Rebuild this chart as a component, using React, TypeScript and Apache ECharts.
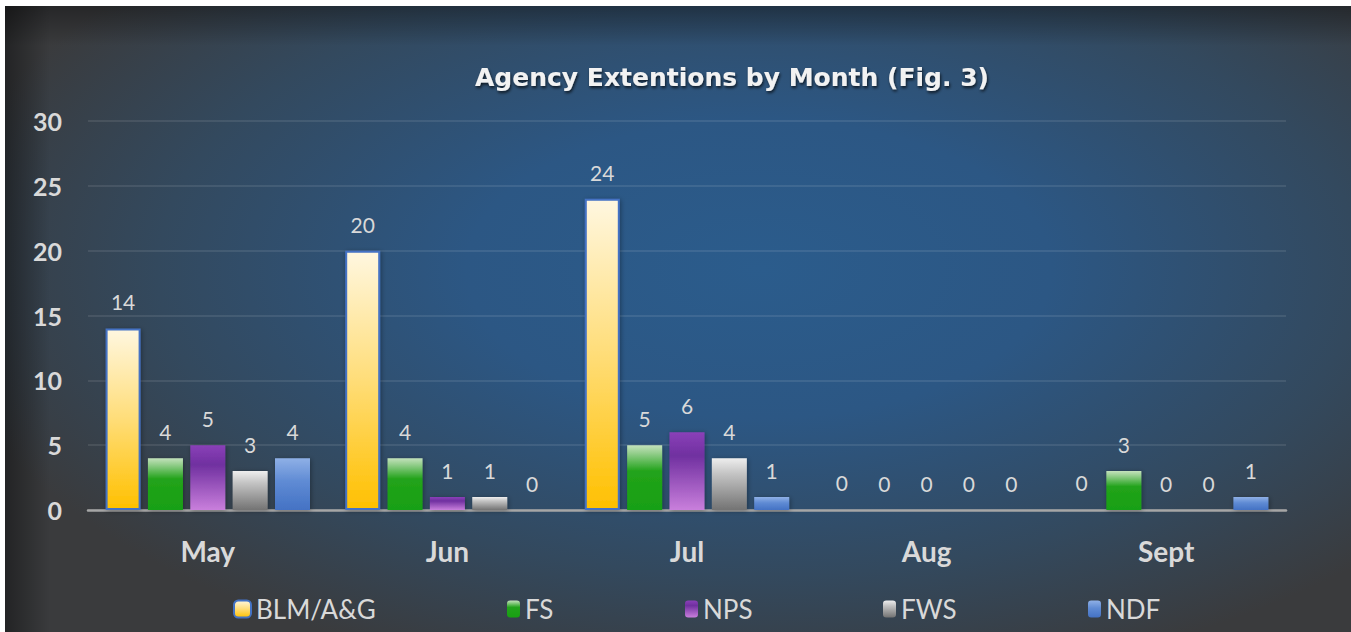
import React, { useEffect, useRef } from "react";
import * as echarts from "echarts";

const months = ["May", "Jun", "Jul", "Aug", "Sept"];
const seriesNames = ["BLM/A&G", "FS", "NPS", "FWS", "NDF"];
const blm = [14, 20, 24, 0, 0];
const fs = [4, 4, 5, 0, 3];
const nps = [5, 1, 6, 0, 0];
const fws = [3, 1, 4, 0, 0];
const ndf = [4, 0, 1, 0, 1];
const yTicks = { min: 0, max: 30, interval: 5 };
const titleText = "Agency Extentions by Month (Fig. 3)";

const FONT = "Lato, 'Open Sans', sans-serif";

const grad = (stops: [number, string][]) =>
  new echarts.graphic.LinearGradient(
    0,
    0,
    0,
    1,
    stops.map(([offset, color]) => ({ offset, color }))
  );

const styles: any[] = [
  {
    color: grad([
      [0, "#fff7e0"],
      [0.5, "#ffdd78"],
      [1, "#ffc000"],
    ]),
    borderColor: "#4472c4",
    borderWidth: 2,
  },
  {
    color: grad([
      [0, "#c4e2bc"],
      [0.12, "#96cf8e"],
      [0.4, "#22a31b"],
      [1, "#18a012"],
    ]),
  },
  {
    color: grad([
      [0, "#8a40b8"],
      [0.3, "#7030a0"],
      [1, "#c97fdc"],
    ]),
  },
  {
    color: grad([
      [0, "#eeeeee"],
      [0.3, "#c4c4c4"],
      [1, "#737373"],
    ]),
  },
  {
    color: grad([
      [0, "#8fb0e6"],
      [0.45, "#5f8bd4"],
      [1, "#4472c4"],
    ]),
  },
];

const dataSets = [blm, fs, nps, fws, ndf];
const legendLeft = [228, 502, 680, 878, 1083];

export default function App() {
  const ref = useRef<HTMLDivElement>(null);

  useEffect(() => {
    if (!ref.current) return;
    const chart = echarts.init(ref.current, undefined, { renderer: "svg" });
    chart.setOption({
      animation: false,
      backgroundColor: "transparent",
      title: {
        text: titleText,
        left: 722,
        top: 54,
        textAlign: "center",
        textStyle: {
          color: "#f2f2f2",
          fontFamily: "'DejaVu Sans', sans-serif",
          fontWeight: "bold",
          fontSize: 25,
          textShadowColor: "rgba(0,0,0,0.7)",
          textShadowBlur: 3,
          textShadowOffsetX: 1,
          textShadowOffsetY: 2,
        },
      },
      legend: seriesNames.map((n, i) => ({
        data: [n],
        left: legendLeft[i],
        top: 590,
        padding: 0,
        itemWidth: i === 0 ? 17 : 13,
        itemHeight: 17,
        icon: "roundRect",
        selectedMode: false,
        textStyle: { color: "#d9d9d9", fontSize: 26, fontFamily: FONT },
      })),
      grid: { left: 83, right: 65, top: 115, bottom: 122 },
      xAxis: {
        type: "category",
        data: months,
        axisTick: { show: false },
        axisLine: { lineStyle: { color: "#a6a6a6", width: 2.5 } },
        axisLabel: {
          color: "#d9d9d9",
          fontFamily: FONT,
          fontWeight: "bold",
          fontSize: 28,
          margin: 27,
        },
      },
      yAxis: {
        type: "value",
        min: yTicks.min,
        max: yTicks.max,
        interval: yTicks.interval,
        axisLine: { show: false },
        axisTick: { show: false },
        splitLine: { lineStyle: { color: "rgba(255,255,255,0.12)", width: 1.5 } },
        axisLabel: {
          color: "#d9d9d9",
          fontFamily: FONT,
          fontWeight: "bold",
          fontSize: 25,
          margin: 26,
        },
      },
      series: seriesNames.map((n, i) => ({
        name: n,
        type: "bar",
        data: dataSets[i],
        barWidth: 35,
        barGap: "21%",
        itemStyle: {
          ...styles[i],
          shadowColor: "rgba(0,0,0,0.35)",
          shadowBlur: 5,
          shadowOffsetX: 1,
          shadowOffsetY: 1,
        },
        label: {
          show: true,
          position: "top",
          distance: 16,
          color: "#d9d9d9",
          fontFamily: FONT,
          fontSize: 21,
        },
      })),
    });
    return () => chart.dispose();
  }, []);

  return (
    <div
      style={{
        position: "fixed",
        left: 0,
        top: 0,
        width: 1351,
        height: 632,
        background: "#ffffff",
        overflow: "hidden",
      }}
    >
      <div
        style={{
          position: "absolute",
          left: 5,
          top: 6,
          width: 1346,
          height: 626,
          background:
            "linear-gradient(to right, rgba(0,0,0,0.4), rgba(0,0,0,0) 45px), linear-gradient(to bottom, rgba(0,0,0,0.35), rgba(0,0,0,0) 40px), radial-gradient(ellipse 62% 68% at 56% 42%, #2b5c8c 0%, #2c5784 35%, #33495e 72%, #3a3b3d 100%)",
        }}
      >
        <div ref={ref} style={{ width: 1346, height: 626 }} />
      </div>
    </div>
  );
}
